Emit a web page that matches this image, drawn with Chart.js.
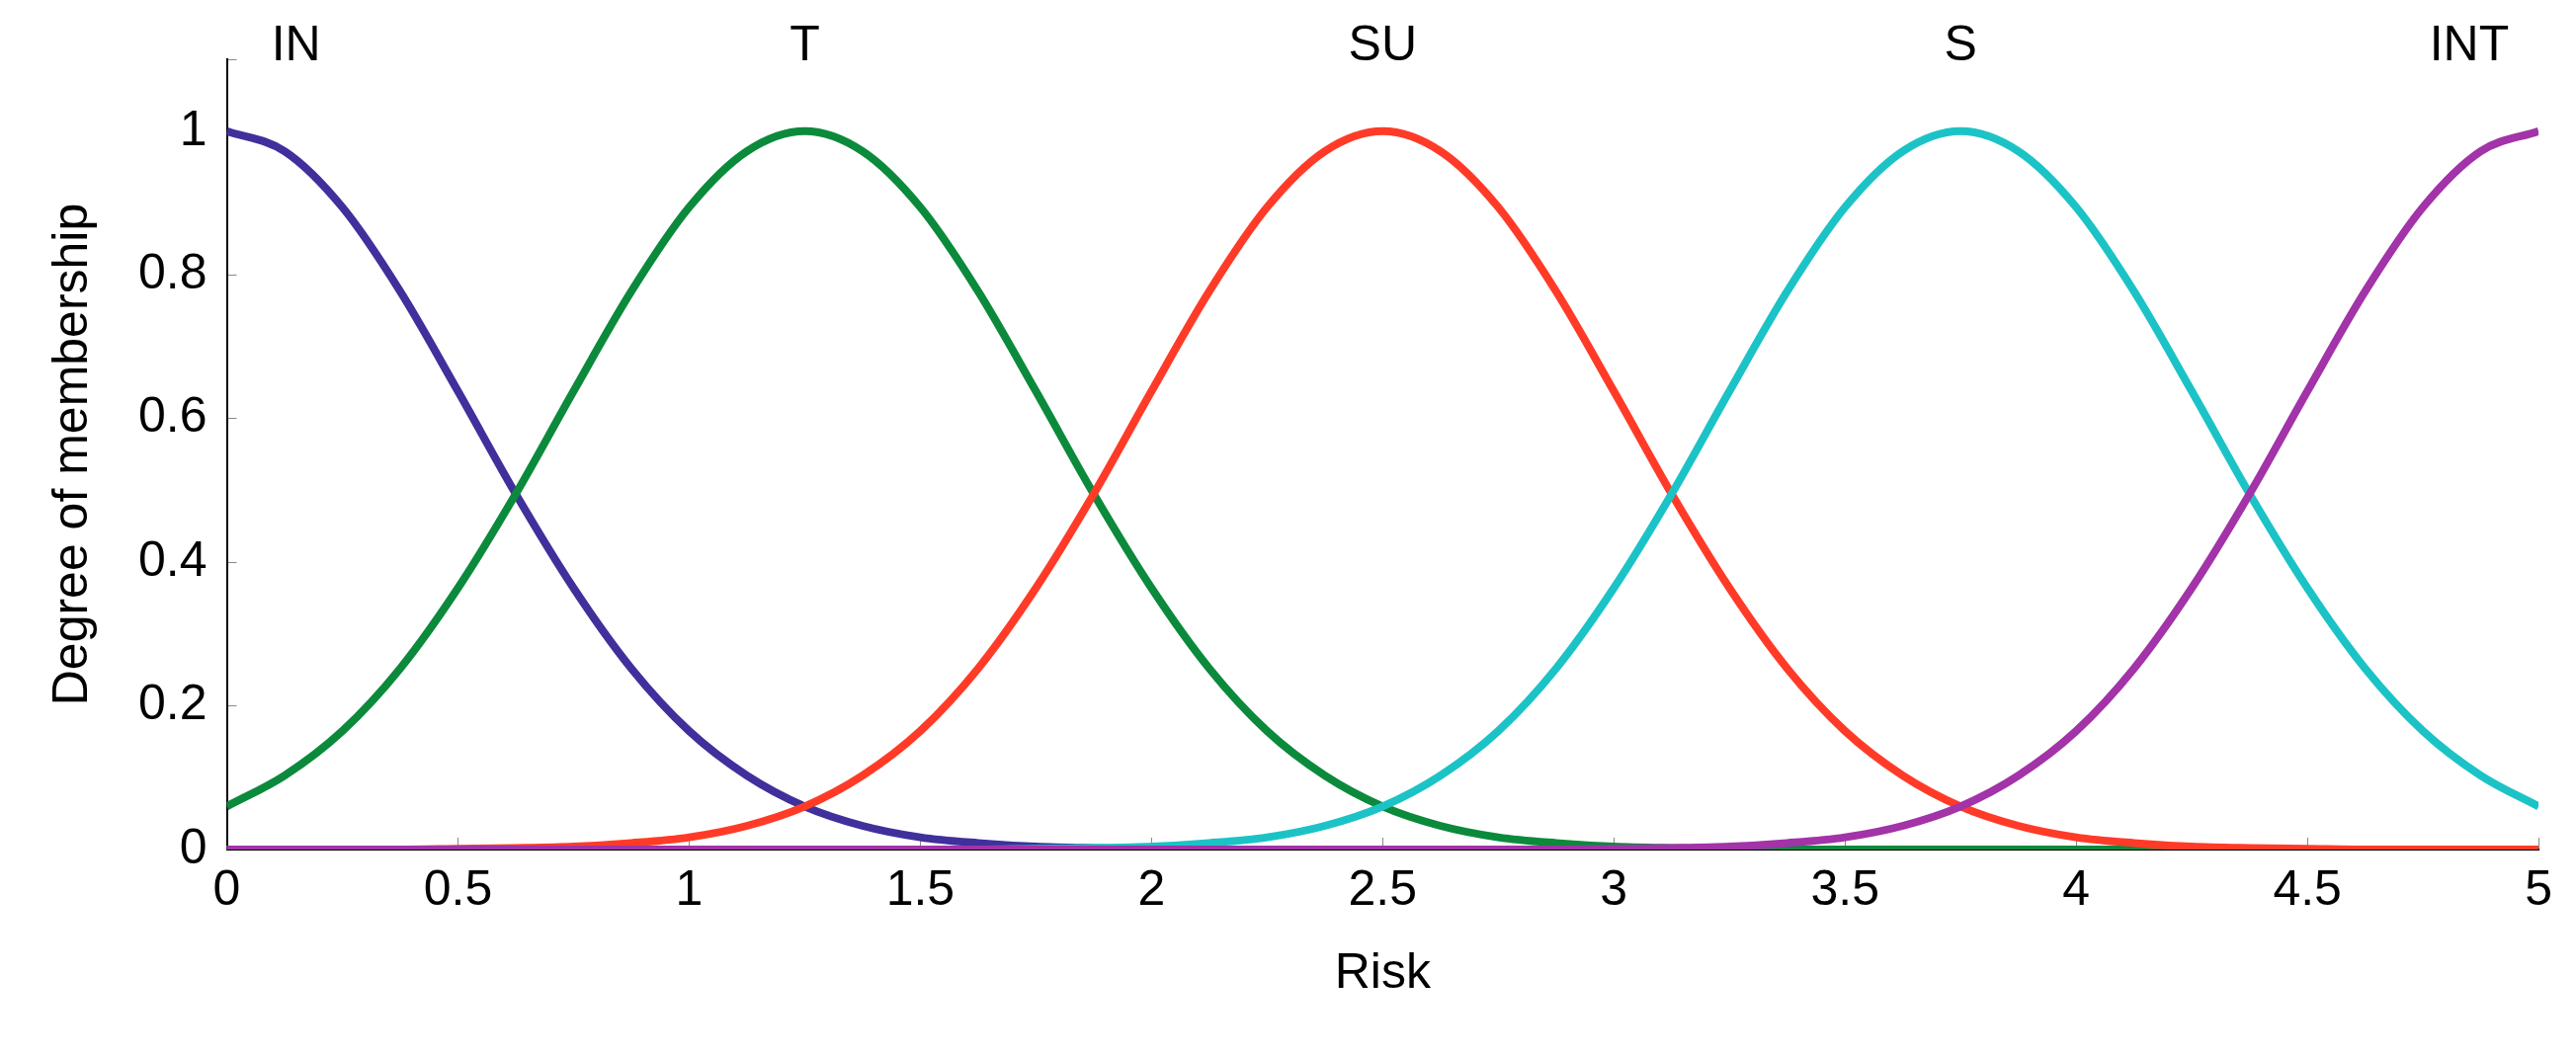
<!DOCTYPE html>
<html><head><meta charset="utf-8">
<script src="https://cdn.jsdelivr.net/npm/chart.js@4"></script>
<style>html,body{margin:0;padding:0;background:#fff}#w{width:2607px;height:1070px}</style>
</head><body><div id="w"><canvas id="c"></canvas></div>
<script>
const xValues=[0,0.125,0.25,0.375,0.5,0.625,0.75,0.875,1,1.125,1.25,1.375,1.5,1.625,1.75,1.875,2,2.125,2.25,2.375,2.5,2.625,2.75,2.875,3,3.125,3.25,3.375,3.5,3.625,3.75,3.875,4,4.125,4.25,4.375,4.5,4.625,4.75,4.875,5];
const seriesIN=[1,0.972,0.894,0.777,0.638,0.495,0.364,0.252,0.165,0.103,0.06,0.033,0.017,0.009,0.004,0.002,0.001,0,0,0,0,0,0,0,0,0,0,0,0,0,0,0,0,0,0,0,0,0,0,0,0];
const seriesT=[0.06,0.103,0.165,0.252,0.364,0.495,0.638,0.777,0.894,0.972,1,0.972,0.894,0.777,0.638,0.495,0.364,0.252,0.165,0.103,0.06,0.033,0.017,0.009,0.004,0.002,0.001,0,0,0,0,0,0,0,0,0,0,0,0,0,0];
const seriesSU=[0,0,0,0,0.001,0.002,0.004,0.009,0.017,0.033,0.06,0.103,0.165,0.252,0.364,0.495,0.638,0.777,0.894,0.972,1,0.972,0.894,0.777,0.638,0.495,0.364,0.252,0.165,0.103,0.06,0.033,0.017,0.009,0.004,0.002,0.001,0,0,0,0];
const seriesS=[0,0,0,0,0,0,0,0,0,0,0,0,0,0,0.001,0.002,0.004,0.009,0.017,0.033,0.06,0.103,0.165,0.252,0.364,0.495,0.638,0.777,0.894,0.972,1,0.972,0.894,0.777,0.638,0.495,0.364,0.252,0.165,0.103,0.06];
const seriesINT=[0,0,0,0,0,0,0,0,0,0,0,0,0,0,0,0,0,0,0,0,0,0,0,0,0.001,0.002,0.004,0.009,0.017,0.033,0.06,0.103,0.165,0.252,0.364,0.495,0.638,0.777,0.894,0.972,1];
const names=['IN','T','SU','S','INT'];
const labelX=[0.15,1.25,2.5,3.75,4.85];
const colors=['#40309c','#0c8a3c','#ff3b28','#1cc3c6','#a233a8'];
const all=[seriesIN,seriesT,seriesSU,seriesS,seriesINT];
const F="'Liberation Sans Narrow','Liberation Sans',Arial,sans-serif";
const topLabels={id:'tl',afterDraw(ch){const c=ch.ctx,xs=ch.scales.x;c.save();c.font='50px '+F;c.fillStyle='#000';c.textAlign='center';c.textBaseline='top';
names.forEach((n,i)=>c.fillText(n,xs.getPixelForValue(labelX[i]),22));c.restore();}};
new Chart(document.getElementById('c'),{type:'line',
data:{datasets:all.map((s,i)=>({label:names[i],data:s.map((y,j)=>({x:xValues[j],y})),borderColor:colors[i],borderWidth:8,pointRadius:0,tension:0.4,cubicInterpolationMode:'monotone',order:5-i}))},
options:{responsive:true,maintainAspectRatio:false,animation:false,layout:{padding:{top:10,right:4,left:40,bottom:50}},
plugins:{legend:{display:false},tooltip:{enabled:false}},
scales:{x:{type:'linear',min:0,max:5,grid:{drawOnChartArea:false,tickLength:-12,color:'#888'},border:{color:'#000',width:2},
ticks:{stepSize:0.5,color:'#000',font:{size:50,family:F},padding:24,callback:v=>String(v)},title:{display:true,text:'Risk',color:'#000',font:{size:50,family:F},padding:{top:0}}},
y:{min:0,max:1.1,grid:{drawOnChartArea:false,tickLength:-10,color:'#888'},border:{color:'#000',width:2},
ticks:{stepSize:0.2,color:'#000',font:{size:50,family:F},padding:30,callback:v=>v>1.05?'':String(Math.round(v*10)/10)},
title:{display:true,text:'Degree of membership',color:'#000',font:{size:50,family:"'Liberation Sans',Arial,sans-serif"},padding:{bottom:6}}}}},
plugins:[topLabels]});
</script></body></html>
